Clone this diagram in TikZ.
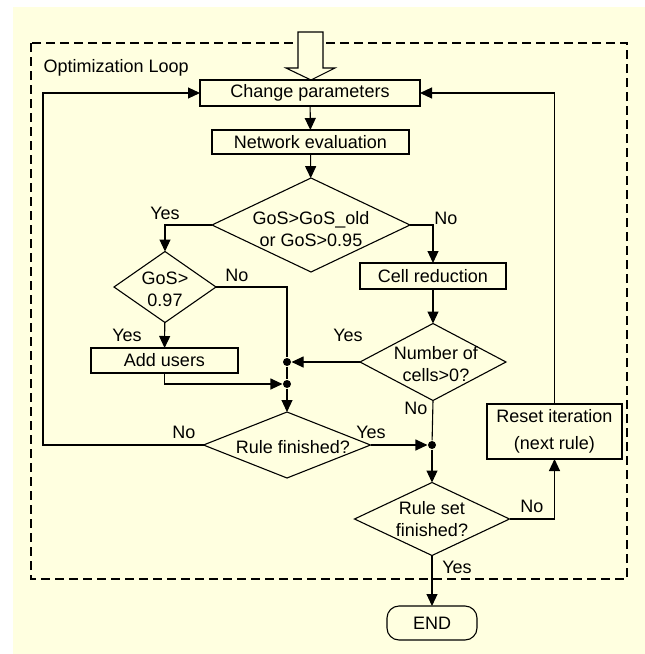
\documentclass[tikz,border=0pt]{standalone}
\usepackage{fontspec}
\setmainfont{Liberation Sans}
\usetikzlibrary{shapes.geometric}
\usetikzlibrary{arrows.meta}
\definecolor{bgyellow}{RGB}{255,255,224}

\tikzset{
  box/.style={draw, rectangle, inner sep=0pt, outer sep=0pt},
  decision/.style={draw, diamond, inner sep=0pt, outer sep=0pt},
  txt/.style={align=center, inner sep=0pt},
  arr/.style={-{Triangle[length=12pt,width=11pt]}},
  dot/.style={circle, fill, inner sep=0pt, minimum size=8pt},
}

\begin{document}
\begin{tikzpicture}[x=1pt, y=-1pt, line width=1.1pt, font=\fontsize{18}{22}\selectfont]
\useasboundingbox (0,0) rectangle (645,654);
\fill[bgyellow] (13,7) rectangle (645,654);
% loop frame
\draw[dash pattern=on 9pt off 5pt, line width=1.5pt] (31,43) rectangle (627,579);
\node[txt, anchor=west] (title) at (43,68) {Optimization Loop};
\draw[fill=bgyellow] (298,32) -- (323,32) -- (323,68) -- (335,68) -- (311,80) -- (286,68) -- (298,68) -- cycle;

% boxes
\node[box, minimum width=220pt, minimum height=26pt] (chg) at (310,93) {Change parameters};
\node[box, minimum width=197pt, minimum height=24pt] (neteval) at (310.5,142) {Network evaluation};
\node[box, minimum width=147pt, minimum height=25pt] (addu) at (164.5,360.5) {Add users};
\node[box, minimum width=146pt, minimum height=26pt] (cellred) at (433,276) {Cell reduction};
\node[box, align=center, minimum width=135pt, minimum height=55pt] (reset) at (554.5,431.5) {Reset iteration\\[5pt](next rule)};
\node[box, rounded corners=12pt, minimum width=90pt, minimum height=34pt] (endn) at (432,623) {END};

% decisions
\node[decision, minimum width=198pt, minimum height=94pt,
  label={[txt, yshift=-4pt]center:{GoS>GoS\_old\\or GoS>0.95}}] (gos) at (311,225) {};
\node[decision, minimum width=102pt, minimum height=71pt,
  label={[txt, yshift=-2pt]center:{GoS>\\0.97}}] (gosb) at (165,287) {};
\node[decision, minimum width=146pt, minimum height=77pt,
  label={[txt, xshift=3pt, yshift=-2pt]center:{Number of\\cells>0?}}] (cells) at (433,362) {};
\node[decision, minimum width=167pt, minimum height=66pt,
  label={[txt, xshift=6pt, yshift=-2pt]center:{Rule finished?}}] (rulefin) at (287,445) {};
\node[decision, minimum width=155pt, minimum height=73pt,
  label={[txt]center:{Rule set\\finished?}}] (ruleset) at (432,519) {};

% junctions
\node[dot] (j1) at (287,362) {};
\node[dot] (j2) at (287,384) {};
\node[dot] (j3) at (432,445) {};
\coordinate (lft) at (43,445);

% connectors
\draw[arr] (chg) -- (neteval);
\draw[arr] (neteval) -- (gos);
\draw[arr] (gos.west) -| (gosb.north);
\draw[arr] (gos.east) -| (cellred.north);
\draw[arr] (gosb) -- (addu);
\draw (gosb.east) -| (j1);
\draw (j1) -- (j2);
\draw[arr] (j2) -- (rulefin.north);
\draw[arr] (cellred) -- (cells);
\draw[arr] (cells.west) -- (j1);
\draw[arr] (addu.south) |- (j2);
\draw (cells.south) -- (j3);
\draw[arr] (j3) -- (ruleset.north);
\draw[arr] (rulefin.east) -- (j3);
\draw[arr] (rulefin.west) -- (lft) |- (chg.west);
\draw[arr] (ruleset.east) -| (reset.south);
\draw[arr] (reset.north) |- (chg.east);
\draw[arr] (ruleset.south) -- (endn.north);

% branch labels
\node[txt] (y1) at (165,213) {Yes};
\node[txt] (n1) at (446,218) {No};
\node[txt] (n2) at (237,275) {No};
\node[txt] (y2) at (127,335) {Yes};
\node[txt] (y3) at (348,335) {Yes};
\node[txt] (n3) at (416,408) {No};
\node[txt] (n4) at (184,432) {No};
\node[txt] (y4) at (371,432) {Yes};
\node[txt] (n5) at (532,506) {No};
\node[txt] (y5) at (457,567) {Yes};
\end{tikzpicture}
\end{document}
